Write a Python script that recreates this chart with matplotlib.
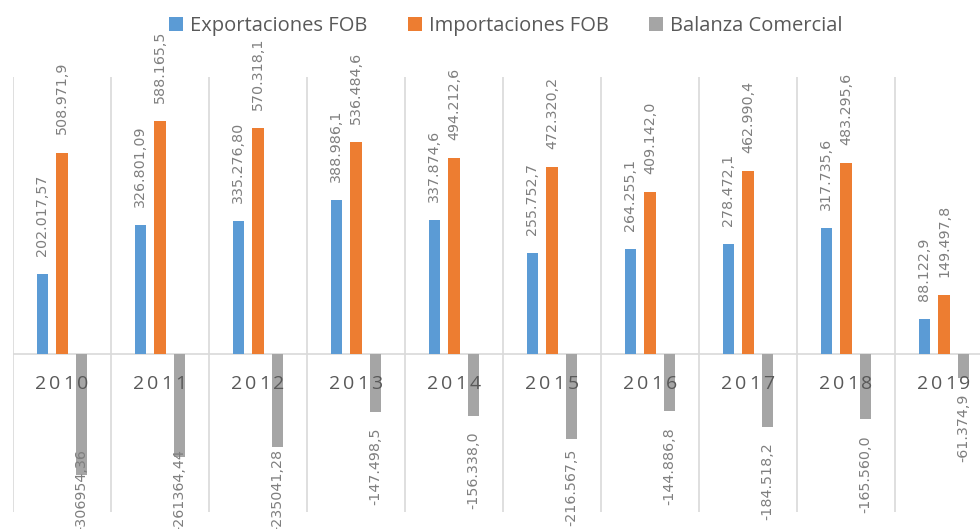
import matplotlib
matplotlib.use("Agg")
import matplotlib.pyplot as plt
import numpy as np

years = ["2010", "2011", "2012", "2013", "2014", "2015", "2016", "2017", "2018", "2019"]
exportaciones = [202017.57, 326801.09, 335276.80, 388986.1, 337874.6, 255752.7, 264255.1, 278472.1, 317735.6, 88122.9]
importaciones = [508971.9, 588165.5, 570318.1, 536484.6, 494212.6, 472320.2, 409142.0, 462990.4, 483295.6, 149497.8]
balanza = [-306954.36, -261364.44, -235041.28, -147498.5, -156338.0, -216567.5, -144886.8, -184518.2, -165560.0, -61374.9]

exp_labels = ["202.017,57", "326.801,09", "335.276,80", "388.986,1", "337.874,6", "255.752,7", "264.255,1", "278.472,1", "317.735,6", "88.122,9"]
imp_labels = ["508.971,9", "588.165,5", "570.318,1", "536.484,6", "494.212,6", "472.320,2", "409.142,0", "462.990,4", "483.295,6", "149.497,8"]
bal_labels = ["-306954,36", "-261364,44", "-235041,28", "-147.498,5", "-156.338,0", "-216.567,5", "-144.886,8", "-184.518,2", "-165.560,0", "-61.374,9"]

series_names = ["Exportaciones FOB", "Importaciones FOB", "Balanza Comercial"]
colors = ["#5B9BD5", "#ED7D31", "#A5A5A5"]

W, H = 980, 529
fig = plt.figure(figsize=(W / 100, H / 100), dpi=100)
# plot area: x from 13 px (extends past right edge), y from 77 to 512 px
ax = fig.add_axes([13 / W, 1 - 512 / H, 980 / W, (512 - 77) / H])
ax.set_xlim(-0.5, 9.5)
ax.set_ylim(-400000, 700000)
for s in ax.spines.values():
    s.set_visible(False)
ax.set_xticks([])
ax.set_yticks([])
ax.set_xticks(np.arange(-0.5, 10.0, 1.0), minor=True)
ax.tick_params(which="both", length=0)
ax.grid(True, which="minor", axis="x", color="#d9d9d9", lw=1.2)
ax.set_axisbelow(True)
ax.axhline(0, color="#d9d9d9", lw=1.2, zorder=1)

x = np.arange(len(years))
width = 0.12
offsets = [-0.2, 0.0, 0.2]
data = [exportaciones, importaciones, balanza]
for d, off, c, name in zip(data, offsets, colors, series_names):
    ax.bar(x + off, d, width=width, color=c, label=name, zorder=2)

label_color = "#7f7f7f"
lab_font = dict(fontsize=10.3, color=label_color, family="DejaVu Sans", rotation=90, ha="center")
for xi, v, t in zip(x + offsets[0], exportaciones, exp_labels):
    ax.annotate(t, (xi, v), xytext=(0, 13), textcoords="offset points", va="bottom", **lab_font)
for xi, v, t in zip(x + offsets[1], importaciones, imp_labels):
    ax.annotate(t, (xi, v), xytext=(0, 13), textcoords="offset points", va="bottom", **lab_font)

floor = -240000
gap = 40000
for xi, v, t in zip(x + offsets[2], balanza, bal_labels):
    yv = v - gap
    if yv < floor:
        yv = floor
    ax.annotate(t, (xi, yv), xytext=(0, 0), textcoords="offset points", va="top",
                annotation_clip=False, **lab_font)

# category labels with letter spacing
pitch_pt = 14 * 0.72
for xi, yr in zip(x, years):
    n = len(yr)
    for k, ch in enumerate(yr):
        ax.annotate(ch, (xi, 0), xytext=((k - (n - 1) / 2) * pitch_pt, -25.2),
                    textcoords="offset points", ha="center", va="baseline",
                    fontsize=14, color="#595959", family="Open Sans", zorder=5)

leg = fig.legend(loc="center", bbox_to_anchor=(506 / W, 1 - 26 / H), ncol=3, frameon=False,
                 prop={"family": "Open Sans", "size": 14.5}, handlelength=0.7, handleheight=0.7,
                 handletextpad=0.35, columnspacing=2.0, borderaxespad=0, borderpad=0)
for t in leg.get_texts():
    t.set_color("#595959")

fig.savefig("out.png", dpi=100)
